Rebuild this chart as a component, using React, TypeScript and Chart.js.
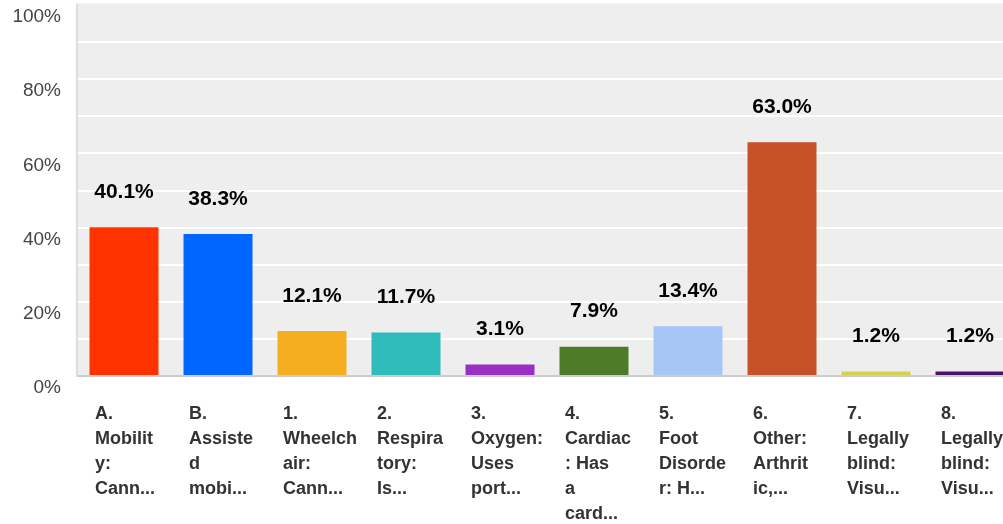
import React, { useEffect, useRef } from 'react';
import { Chart, registerables } from 'chart.js';

Chart.register(...registerables);

const categories: string[][] = [
  ['A.', 'Mobilit', 'y:', 'Cann...'],
  ['B.', 'Assiste', 'd', 'mobi...'],
  ['1.', 'Wheelch', 'air:', 'Cann...'],
  ['2.', 'Respira', 'tory:', 'Is...'],
  ['3.', 'Oxygen:', 'Uses', 'port...'],
  ['4.', 'Cardiac', ': Has', 'a', 'card...'],
  ['5.', 'Foot', 'Disorde', 'r: H...'],
  ['6.', 'Other:', 'Arthrit', 'ic,...'],
  ['7.', 'Legally', 'blind:', 'Visu...'],
  ['8.', 'Legally', 'blind:', 'Visu...'],
];

const values: number[] = [40.1, 38.3, 12.1, 11.7, 3.1, 7.9, 13.4, 63.0, 1.2, 1.2];

const valueLabels: string[] = ['40.1%', '38.3%', '12.1%', '11.7%', '3.1%', '7.9%', '13.4%', '63.0%', '1.2%', '1.2%'];

const barColors: string[] = [
  '#ff3300',
  '#0066ff',
  '#f6ae21',
  '#31bcbc',
  '#9a2fc4',
  '#4e7b28',
  '#a6c6f8',
  '#c65128',
  '#d5d14b',
  '#4b1467',
];

const yMin = 0;
const yMax = 100;
const yStep = 10;
const yLabelEvery = 20;

const FONT = '"Liberation Sans", Arial, sans-serif';

const backgroundPlugin = {
  id: 'plotBackground',
  beforeDraw(chart: any) {
    const { ctx, chartArea } = chart;
    ctx.save();
    ctx.fillStyle = '#eeeeee';
    ctx.fillRect(chartArea.left - 1, chartArea.top - 1.5, chartArea.right - chartArea.left + 1, chartArea.bottom - chartArea.top + 1.5);
    ctx.restore();
  },
};

const dataLabelPlugin = {
  id: 'valueLabels',
  afterDatasetsDraw(chart: any) {
    const { ctx } = chart;
    const meta = chart.getDatasetMeta(0);
    ctx.save();
    ctx.font = `bold 21px ${FONT}`;
    ctx.fillStyle = '#000000';
    ctx.textAlign = 'center';
    ctx.textBaseline = 'middle';
    meta.data.forEach((bar: any, i: number) => {
      ctx.fillText(valueLabels[i], bar.x, bar.y - 35);
    });
    ctx.restore();
  },
};

export default function App() {
  const canvasRef = useRef<HTMLCanvasElement | null>(null);

  useEffect(() => {
    if (!canvasRef.current) return;
    const chart = new Chart(canvasRef.current, {
      type: 'bar',
      data: {
        labels: categories,
        datasets: [
          {
            data: values,
            backgroundColor: barColors,
            borderWidth: 0,
            categoryPercentage: 1,
            barPercentage: 0.734,
          },
        ],
      },
      options: {
        responsive: false,
        animation: false,
        devicePixelRatio: 1,
        layout: { padding: { top: 5, left: 0, right: 0, bottom: 0 } },
        plugins: {
          legend: { display: false },
          tooltip: { enabled: false },
        },
        scales: {
          x: {
            grid: { display: false, drawTicks: false },
            border: { display: true, color: '#cccccc', width: 2 },
            ticks: {
              autoSkip: false,
              maxRotation: 0,
              minRotation: 0,
              align: 'start',
              labelOffset: -29,
              padding: 26,
              color: '#333333',
              font: { family: FONT, size: 18, weight: 'bold', lineHeight: 25 / 18 },
            },
            afterFit(scale: any) {
              scale.height = 148;
              scale.paddingLeft = 0;
              scale.paddingRight = 0;
            },
          },
          y: {
            min: yMin,
            max: yMax,
            grid: {
              drawTicks: false,
              lineWidth: 2,
              color: (ctx: any) => (ctx.tick && ctx.tick.value === yMax ? 'rgba(0,0,0,0)' : '#ffffff'),
            },
            border: { display: true, color: '#dddddd', width: 2 },
            ticks: {
              stepSize: yStep,
              padding: 16,
              labelOffset: 12,
              color: '#444444',
              font: { family: FONT, size: 19 },
              callback: (v: any) => (Number(v) % yLabelEvery === 0 ? `${v}%` : ''),
            },
            afterFit(scale: any) {
              scale.width = 77;
              scale.paddingTop = 0;
              scale.paddingBottom = 0;
            },
          },
        },
      } as any,
      plugins: [backgroundPlugin, dataLabelPlugin],
    });
    return () => chart.destroy();
  }, []);

  return (
    <div
      style={{
        position: 'fixed',
        left: 0,
        top: 0,
        width: 1003,
        height: 524,
        overflow: 'hidden',
        background: '#ffffff',
      }}
    >
      <canvas ref={canvasRef} width={1017} height={524} style={{ display: 'block' }} />
    </div>
  );
}
